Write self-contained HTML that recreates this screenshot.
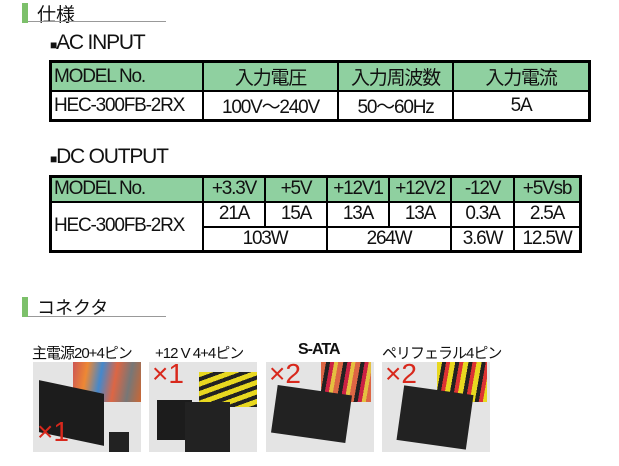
<!DOCTYPE html>
<html><head><meta charset="utf-8"><style>
body{margin:0;width:619px;height:466px;background:#fff;position:relative;overflow:hidden;font-family:"Liberation Sans","Noto Sans CJK JP",sans-serif;color:#111}
.a{position:absolute}
.bar{position:absolute;width:6px;height:20px;background:#7cc06a}
.ul{position:absolute;height:1px;background:#999}
table{position:absolute;border-collapse:collapse;border:3px solid #000}
td{border:2px solid #000;padding:0;text-align:center;font-size:19px;white-space:nowrap;letter-spacing:-1.2px}
.g td,td.g{background:#8fd0a0}
.l{text-align:left;padding-left:2px}
.img{position:absolute;background:#e4e4e4;overflow:hidden}
.x{position:absolute;color:#d8281c;font-size:28px}
.lab{position:absolute;font-size:15px;letter-spacing:-1px}
</style></head><body>
<div class="bar" style="left:22px;top:3px"></div>
<div class="a" style="left:37px;top:0px;font-size:19px">仕様</div>
<div class="ul" style="left:28px;top:21px;width:138px"></div>
<div class="a" style="left:50px;top:31px;font-size:21px;letter-spacing:-1.2px"><span style="font-size:12px">■</span>AC INPUT</div>
<table style="left:49px;top:60px;width:542px;height:52px">
<tr class="g" style="height:26px"><td class="l" style="width:148px">MODEL No.</td><td style="width:133px">入力電圧</td><td style="width:113px">入力周波数</td><td>入力電流</td></tr>
<tr><td class="l">HEC-300FB-2RX</td><td>100V～240V</td><td>50～60Hz</td><td>5A</td></tr>
</table>
<div class="a" style="left:50px;top:145px;font-size:21px;letter-spacing:-1.2px"><span style="font-size:12px">■</span>DC OUTPUT</div>
<table style="left:49px;top:175px;width:533px;height:76px">
<tr class="g" style="height:25px"><td class="l" style="width:148px">MODEL No.</td><td style="width:60px">+3.3V</td><td style="width:60px">+5V</td><td style="width:60px">+12V1</td><td style="width:60px">+12V2</td><td style="width:61px">-12V</td><td>+5Vsb</td></tr>
<tr style="height:25px"><td class="l" rowspan="2" style="background:#fff">HEC-300FB-2RX</td><td>21A</td><td>15A</td><td>13A</td><td>13A</td><td>0.3A</td><td>2.5A</td></tr>
<tr><td colspan="2">103W</td><td colspan="2">264W</td><td>3.6W</td><td>12.5W</td></tr>
</table>
<div class="bar" style="left:22px;top:297px"></div>
<div class="a" style="left:37px;top:294px;font-size:18px">コネクタ</div>
<div class="ul" style="left:28px;top:316px;width:138px"></div>
<div class="lab" style="left:32px;top:342px">主電源20+4ピン</div>
<div class="lab" style="left:155px;top:342px">+12 V 4+4ピン</div>
<div class="lab" style="left:298px;top:341px;font-weight:bold;font-size:16px">S-ATA</div>
<div class="lab" style="left:382px;top:342px">ペリフェラル4ピン</div>
<div class="img" style="left:33px;top:362px;width:108px;height:90px">
<div class="a" style="left:40px;top:0;width:68px;height:40px;background:linear-gradient(100deg,#c55 0,#e83 20%,#48c 40%,#d64 60%,#777 80%,#c63 100%)"></div>
<div class="a" style="left:6px;top:25px;width:65px;height:52px;background:#1c1c1c;transform:skewY(12deg)"></div>
<div class="a" style="left:76px;top:70px;width:20px;height:22px;background:#222"></div>
<div class="x" style="left:4px;top:54px">×1</div></div>
<div class="img" style="left:149px;top:362px;width:108px;height:90px">
<div class="a" style="left:50px;top:10px;width:58px;height:35px;background:repeating-linear-gradient(160deg,#e8d820 0 5px,#222 5px 9px)"></div>
<div class="a" style="left:8px;top:38px;width:35px;height:40px;background:#1c1c1c"></div>
<div class="a" style="left:36px;top:40px;width:45px;height:50px;background:#222"></div>
<div class="x" style="left:3px;top:-4px">×1</div></div>
<div class="img" style="left:266px;top:362px;width:108px;height:90px">
<div class="a" style="left:55px;top:0;width:50px;height:40px;background:repeating-linear-gradient(100deg,#d64 0 5px,#222 5px 9px,#c24 9px 13px,#e5c040 13px 17px)"></div>
<div class="a" style="left:8px;top:28px;width:75px;height:48px;background:#222;transform:rotate(8deg)"></div>
<div class="x" style="left:3px;top:-4px">×2</div></div>
<div class="img" style="left:382px;top:362px;width:108px;height:90px">
<div class="a" style="left:55px;top:0;width:50px;height:40px;background:repeating-linear-gradient(100deg,#e8d820 0 5px,#222 5px 9px,#d33 9px 13px)"></div>
<div class="a" style="left:18px;top:28px;width:70px;height:55px;background:#222;transform:rotate(8deg)"></div>
<div class="x" style="left:3px;top:-4px">×2</div></div>
</body></html>
